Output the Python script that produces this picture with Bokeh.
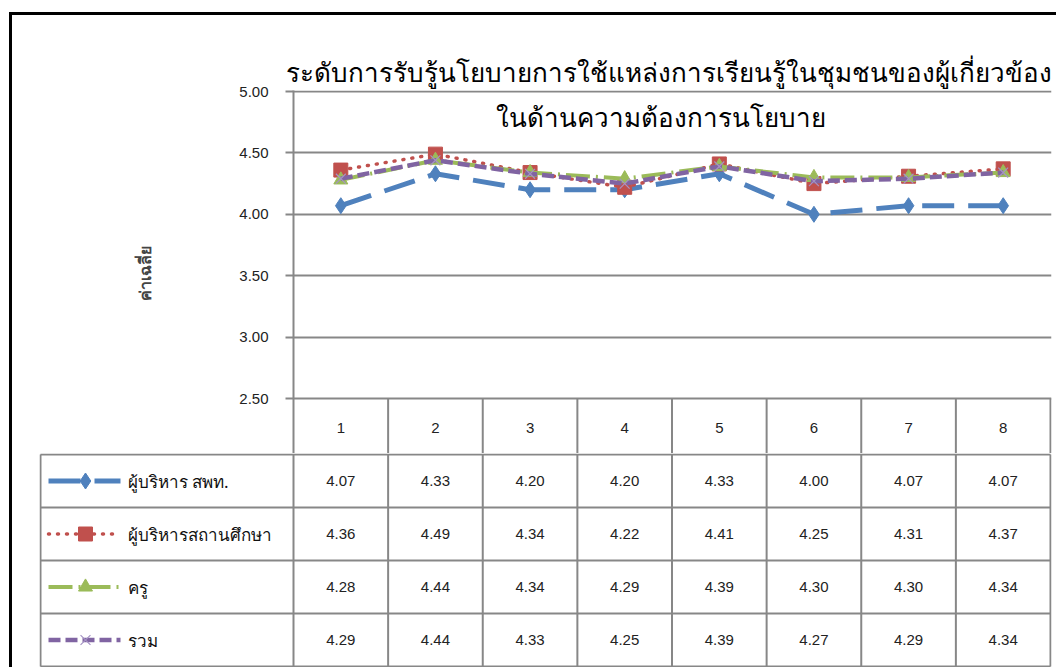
from bokeh.plotting import figure
from bokeh.models import Range1d, FixedTicker, NumeralTickFormatter, Label
from bokeh.core.properties import value
from bokeh.embed import file_html
from bokeh.resources import INLINE

# ---------------- data ----------------
categories = ["1", "2", "3", "4", "5", "6", "7", "8"]
series_names = ["ผู้บริหาร สพท.", "ผู้บริหารสถานศึกษา", "ครู", "รวม"]
s_spt = [4.07, 4.33, 4.20, 4.20, 4.33, 4.00, 4.07, 4.07]
s_school = [4.36, 4.49, 4.34, 4.22, 4.41, 4.25, 4.31, 4.37]
s_teacher = [4.28, 4.44, 4.34, 4.29, 4.39, 4.30, 4.30, 4.34]
s_total = [4.29, 4.44, 4.33, 4.25, 4.39, 4.27, 4.29, 4.34]
y_ticks = [2.5, 3.0, 3.5, 4.0, 4.5, 5.0]
title_lines = ["ระดับการรับรู้นโยบายการใช้แหล่งการเรียนรู้ในชุมชนของผู้เกี่ยวข้อง",
               "ในด้านความต้องการนโยบาย"]
y_label = "ค่าเฉลี่ย"

series_values = [s_spt, s_school, s_teacher, s_total]

# ---------------- styles ----------------
colors = ["#4F81BD", "#C0504D", "#9BBB59", "#8064A2"]
dashes = ["32 14", "1 8", "24 6 2 6", "12 5"]
widths = [5, 3.5, 4, 4.5]
caps = ["butt", "round", "butt", "butt"]
markers = ["diamond", "square", "triangle", "x"]
msizes = [16, 14, 14, 14]
GRAY = "#878787"
TH_FONT_S = "Noto Sans"
NUM_FONT_S = "Liberation Sans"
TH_FONT = value(TH_FONT_S)
NUM_FONT = value(NUM_FONT_S)

# ---------------- geometry (page px) ----------------
OX, OY = 12, 15     # content origin (after black frame border)
WIN_W = 1059
FIG_W = WIN_W - OX
AX_X = 293          # page x of y axis
RIGHT_X = 1051      # page x of frame right edge
COL_PX = 757 / 8    # column width
Y5 = 91             # page y of 5.00
Y25 = 398           # page y of 2.50
PPY = (Y25 - Y5) / 2.5
HEADER_PX = 58
FRAME1_TOP = 90
FRAME1_BOTTOM = Y25 + HEADER_PX
TABLE_LEFT = 40
ROW_PX = 53

n = len(categories)
xs = list(range(1, n + 1))

# ---------------- chart figure ----------------
h1 = FRAME1_BOTTOM - OY
p = figure(width=FIG_W, height=h1, output_backend="svg", toolbar_location=None,
           min_border_left=AX_X - OX, min_border_right=WIN_W - RIGHT_X,
           min_border_top=FRAME1_TOP - OY, min_border_bottom=0,
           x_range=Range1d(0.5, 0.5 + (RIGHT_X - AX_X) / COL_PX),
           y_range=Range1d(2.5 - HEADER_PX / PPY, 5.0 + (Y5 - FRAME1_TOP) / PPY),
           styles={"margin-left": "9px", "margin-top": "12px",
                   "border-left": "3px solid black", "border-top": "3px solid black"})
p.outline_line_color = None
p.background_fill_color = "white"
p.border_fill_color = "white"
p.xaxis.visible = False
p.xgrid.visible = False
p.yaxis.ticker = FixedTicker(ticks=y_ticks)
p.ygrid.ticker = FixedTicker(ticks=y_ticks)
p.yaxis.formatter = NumeralTickFormatter(format="0.00")
p.yaxis.axis_line_color = GRAY
p.yaxis.axis_line_width = 2
p.yaxis.major_tick_line_color = GRAY
p.yaxis.major_tick_line_width = 2
p.yaxis.major_tick_out = 8
p.yaxis.major_tick_in = 0
p.yaxis.minor_tick_line_color = None
p.yaxis.major_label_text_font = NUM_FONT_S
p.yaxis.major_label_text_font_size = "15px"
p.yaxis.major_label_text_color = "#222222"
p.yaxis.major_label_standoff = 17
p.yaxis.axis_label = y_label
p.yaxis.axis_label_text_font = TH_FONT_S
p.yaxis.axis_label_text_font_style = "bold"
p.yaxis.axis_label_text_font_size = "16px"
p.yaxis.axis_label_standoff = 80

p.ygrid.grid_line_color = GRAY
p.ygrid.grid_line_width = 2

# title line 1 (figure title), line 2 (label inside the frame)
p.title.text = title_lines[0]
p.title.align = "left"
p.title.offset = -8
p.title.text_font = TH_FONT_S
p.title.text_font_size = "26px"
p.title.text_font_style = "normal"
p.title.text_color = "#000000"
p.title.standoff = 2

title_x = 0.5 + (660 - AX_X) / COL_PX
p.add_layout(Label(x=title_x, y=5.0 - (116 - Y5) / PPY, text=title_lines[1], text_align="center",
                   text_baseline="middle", text_font=TH_FONT_S, text_font_size="26px",
                   text_color="#000000"))

# header row of the data table
hdr_y = 2.5 - (HEADER_PX / 2) / PPY
p.segment(x0=[x + 0.5 for x in xs], y0=[2.5 - HEADER_PX / PPY] * n,
          x1=[x + 0.5 for x in xs], y1=[2.5] * n, line_color=GRAY, line_width=2)
p.text(x=xs, y=[hdr_y] * n, text=categories, text_align="center", text_baseline="middle",
       text_font=NUM_FONT, text_font_size="15px", text_color="#222222")

for vals, c, d, w, cap, m, ms in zip(series_values, colors, dashes, widths, caps, markers, msizes):
    p.line(xs, vals, line_color=c, line_width=w, line_dash=d, line_cap=cap)
    if m == "x":
        p.scatter(xs, vals, marker=m, size=ms, line_color="#A593C4", line_width=1.2)
    else:
        p.scatter(xs, vals, marker=m, size=ms, fill_color=c, line_color=c)

# ---------------- table figure ----------------
nrows = len(series_names)
h2 = nrows * ROW_PX + 2
t = figure(width=FIG_W, height=h2, output_backend="svg", toolbar_location=None,
           min_border_left=TABLE_LEFT - 1 - OX, min_border_right=WIN_W - RIGHT_X,
           min_border_top=0, min_border_bottom=0,
           x_range=Range1d(0.5 - (AX_X - TABLE_LEFT + 1) / COL_PX,
                           0.5 + (RIGHT_X - AX_X) / COL_PX),
           y_range=Range1d(-1 / ROW_PX, nrows + 1 / ROW_PX),
           styles={"margin-left": "9px", "border-left": "3px solid black"})
t.outline_line_color = None
t.axis.visible = False
t.grid.visible = False
t.border_fill_color = "white"

left_x = 0.5 - (AX_X - TABLE_LEFT) / COL_PX
right_x = 0.5 + n
t.segment(x0=[left_x] * (nrows + 1), y0=list(range(nrows + 1)),
          x1=[right_x] * (nrows + 1), y1=list(range(nrows + 1)), line_color=GRAY, line_width=2)
vx = [left_x] + [x - 0.5 for x in xs] + [right_x]
t.segment(x0=vx, y0=[0] * len(vx), x1=vx, y1=[nrows] * len(vx), line_color=GRAY, line_width=2)

cx, cy, ct = [], [], []
for r, vals in enumerate(series_values):
    for x, v in zip(xs, vals):
        cx.append(x)
        cy.append(nrows - r - 0.5)
        ct.append(f"{v:.2f}")
t.text(x=cx, y=cy, text=ct, text_align="center", text_baseline="middle",
       text_font=NUM_FONT, text_font_size="15px", text_color="#222222")

def px2x(px):
    return 0.5 + (px - AX_X) / COL_PX

for r, (name, c, d, w, cap, m, ms) in enumerate(zip(series_names, colors, dashes, widths, caps, markers, msizes)):
    yy = nrows - r - 0.5
    t.line([px2x(48), px2x(120)], [yy, yy], line_color=c, line_width=w, line_dash=d, line_cap=cap)
    if m == "x":
        t.scatter([px2x(85)], [yy], marker=m, size=ms, line_color="#A593C4", line_width=1.2)
    else:
        t.scatter([px2x(85)], [yy], marker=m, size=ms, fill_color=c, line_color=c)
    t.text(x=[px2x(127)], y=[yy], text=[name], text_align="left", text_baseline="middle",
           text_font=TH_FONT, text_font_size="17px", text_color="#111111")

open("out.html", "w").write(file_html((p, t), INLINE))
